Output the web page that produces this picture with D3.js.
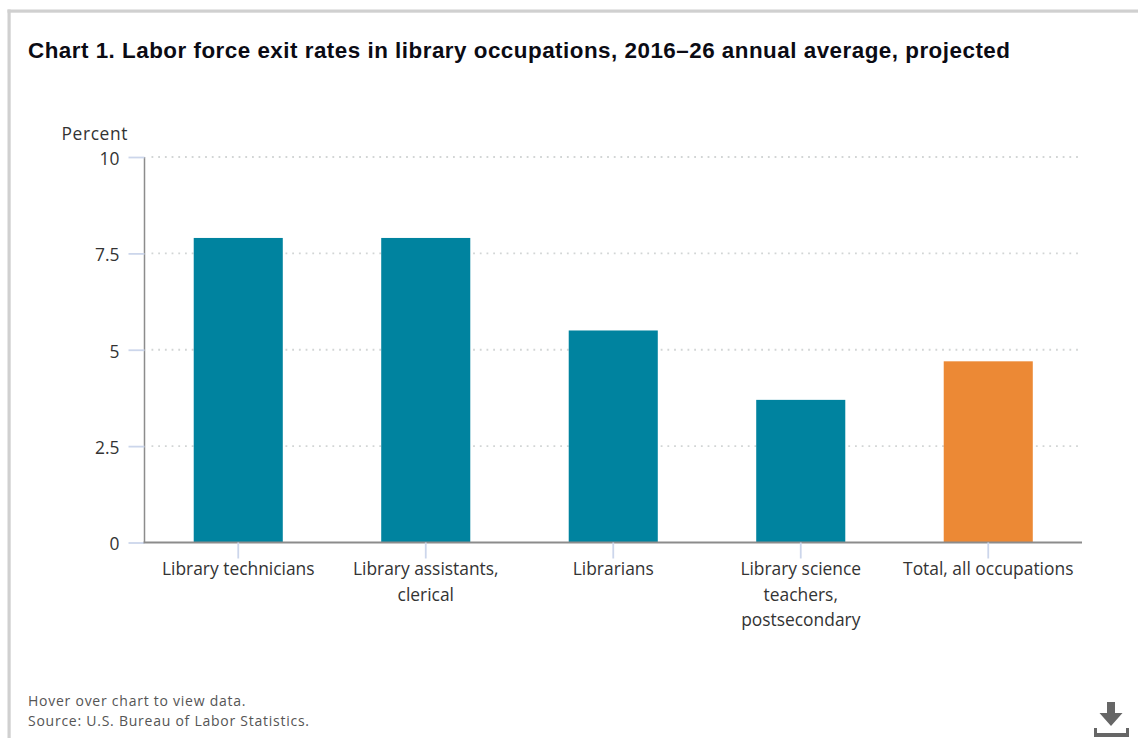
<!DOCTYPE html>
<html>
<head>
<meta charset="utf-8">
<script src="https://cdnjs.cloudflare.com/ajax/libs/d3/7.8.5/d3.min.js"></script>
<style>
  html, body { margin: 0; padding: 0; background: #fff; overflow: hidden; }
  svg { display: block; }
  text { font-family: "Open Sans", "Noto Sans", sans-serif; }
</style>
</head>
<body>
<svg id="chart" width="1138" height="738"></svg>
<script>
const categories = [
  ["Library technicians"],
  ["Library assistants,", "clerical"],
  ["Librarians"],
  ["Library science", "teachers,", "postsecondary"],
  ["Total, all occupations"]
];
const exitRates = [7.9, 7.9, 5.5, 3.7, 4.7];
const barColors = ["#00839f", "#00839f", "#00839f", "#00839f", "#ec8935"];
const yTicks = [0, 2.5, 5, 7.5, 10];
const yTickLabels = ["0", "2.5", "5", "7.5", "10"];
const titleText = "Chart 1. Labor force exit rates in library occupations, 2016–26 annual average, projected";
const unitLabel = "Percent";
const footerLines = ["Hover over chart to view data.", "Source: U.S. Bureau of Labor Statistics."];

const svg = d3.select("#chart");
const plot = { left: 144.5, right: 1082, top: 157, bottom: 542.5 };

const x = d3.scaleBand()
  .domain(categories.map((_, i) => i))
  .range([plot.left, plot.right])
  .paddingInner(0.525)
  .paddingOuter(0.2625);
const y = d3.scaleLinear().domain([0, 10]).range([plot.bottom, plot.top]);

// Outer frame: only the top and left edges are visible
svg.append("rect").attr("x", 7.5).attr("y", 9.5).attr("width", 1130.5).attr("height", 3.2).attr("fill", "#d0d0d0");
svg.append("rect").attr("x", 7.5).attr("y", 9.5).attr("width", 3.2).attr("height", 728.5).attr("fill", "#d0d0d0");

svg.append("text")
  .attr("x", 28).attr("y", 58)
  .attr("font-size", 22.4).attr("font-weight", 700)
  .style("font-family", "'Liberation Sans', Arial, sans-serif")
  .attr("textLength", 982).attr("lengthAdjust", "spacing")
  .attr("fill", "#0b0b14")
  .text(titleText);

svg.append("text")
  .attr("x", 128).attr("y", 140)
  .attr("text-anchor", "end").attr("font-size", 17.4).attr("letter-spacing", 0.6).attr("fill", "#333")
  .text(unitLabel);

// Dotted gridlines, skipping the baseline
svg.append("g").selectAll("line")
  .data(yTicks.filter(t => t > 0))
  .join("line")
  .attr("x1", plot.left + 7).attr("x2", 1079)
  .attr("y1", d => y(d)).attr("y2", d => y(d))
  .attr("stroke", "#d2d5d5").attr("stroke-width", 1.8)
  .attr("stroke-dasharray", "1.8 4.9");

// Bars
svg.append("g").selectAll("rect")
  .data(exitRates)
  .join("rect")
  .attr("x", (_, i) => x(i))
  .attr("width", x.bandwidth())
  .attr("y", d => y(d))
  .attr("height", d => y(0) - y(d))
  .attr("fill", (_, i) => barColors[i]);

// Value axis
const yAxis = d3.axisLeft(y)
  .tickValues(yTicks)
  .tickFormat((_, i) => yTickLabels[i])
  .tickSize(16)
  .tickPadding(9);
const gy = svg.append("g").attr("transform", `translate(${plot.left},0)`).call(yAxis);
gy.select(".domain").attr("stroke", "#8c8c8c").attr("stroke-width", 1.5).attr("d", `M0,${plot.top}V${plot.bottom}`);
gy.selectAll(".tick line").attr("stroke", "#ccd6eb").attr("stroke-width", 1.8);
gy.selectAll(".tick text").attr("font-size", 17.4).attr("fill", "#333").attr("dy", "0.42em")
  .style("font-family", "'Open Sans', 'Noto Sans', sans-serif");

// Category axis with wrapped labels
const xAxis = d3.axisBottom(x).tickSize(16).tickFormat("");
const gx = svg.append("g").attr("transform", `translate(0,${plot.bottom})`).call(xAxis);
gx.select(".domain").attr("stroke", "#8c8c8c").attr("stroke-width", 2).attr("d", `M${plot.left - 1},0H${plot.right}`);
gx.selectAll(".tick line").attr("stroke", "#ccd6eb").attr("stroke-width", 1.8);

const labels = svg.append("g").selectAll("text")
  .data(categories)
  .join("text")
  .attr("text-anchor", "middle").attr("font-size", 17.4).attr("fill", "#333")
  .attr("transform", (_, i) => `translate(${x(i) + x.bandwidth() / 2},575)`);
labels.selectAll("tspan")
  .data(d => d)
  .join("tspan")
  .attr("x", 0)
  .attr("y", (_, i) => i * 25.5)
  .text(d => d);

// Footer notes
svg.append("g").selectAll("text")
  .data(footerLines)
  .join("text")
  .attr("x", 28).attr("y", (_, i) => 705.5 + i * 20)
  .attr("font-size", 14).attr("letter-spacing", 0.75).attr("fill", "#555")
  .text(d => d);

// Download icon
const icon = svg.append("g").attr("fill", "#666");
icon.append("path").attr("d", "M1107,702H1115V713H1122.5L1111,726L1099.5,713H1107Z");
icon.append("path").attr("d", "M1094,728H1097V733H1126V728H1129V737H1094Z");
</script>
</body>
</html>
